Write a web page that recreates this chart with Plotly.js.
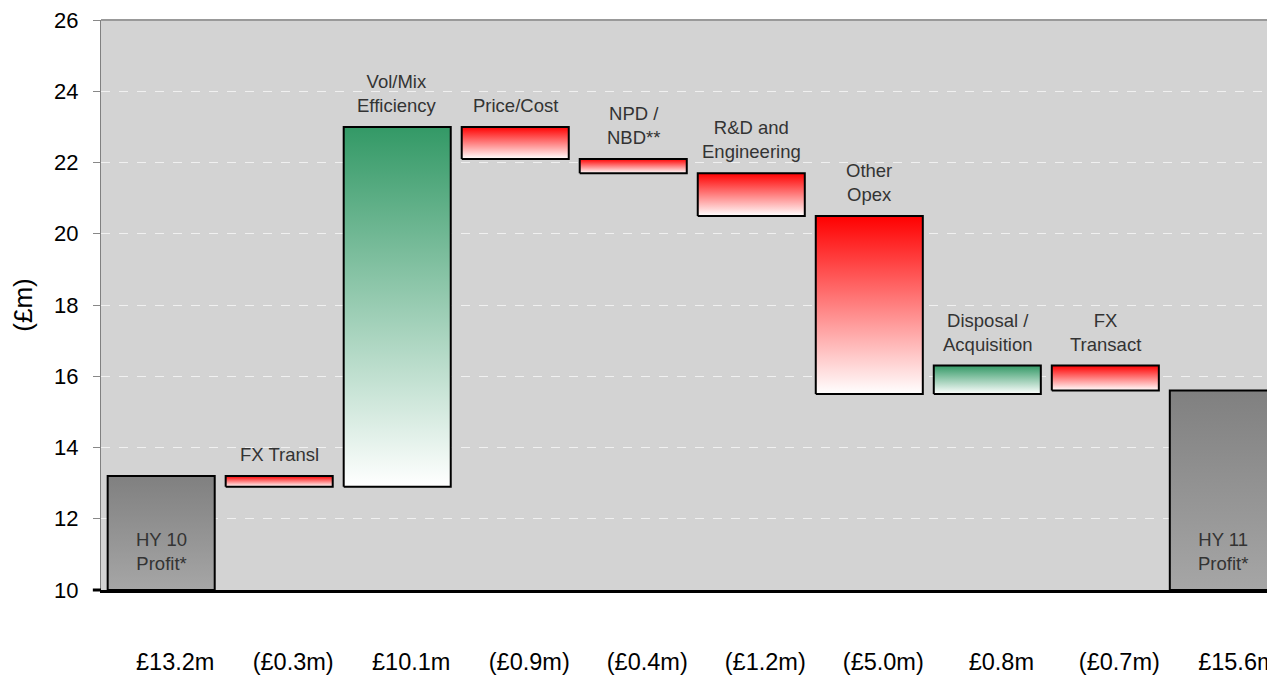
<!DOCTYPE html>
<html>
<head>
<meta charset="utf-8">
<script src="https://cdn.plot.ly/plotly-3.0.1.min.js"></script>
<style>html,body{margin:0;padding:0;background:#fff;}#chart{width:1267px;height:677px;}</style>
</head>
<body>
<div id="chart"></div>
<script>
// ---- data ----
const categories = ["HY 10<br>Profit*", "FX Transl", "Vol/Mix<br>Efficiency", "Price/Cost", "NPD /<br>NBD**",
  "R&D and<br>Engineering", "Other<br>Opex", "Disposal /<br>Acquisition", "FX<br>Transact", "HY 11<br>Profit*"];
const measures = ["total", "relative", "relative", "relative", "relative", "relative", "relative", "relative", "relative", "total"];
const values = [13.2, -0.3, 10.1, -0.9, -0.4, -1.2, -5.0, 0.8, -0.7, 15.6];
const axisBase = 10;
const yTicks = [10, 12, 14, 16, 18, 20, 22, 24, 26];

// ---- build ----
const barW = 0.907;
const traces = [];
const annotations = [];
let running = 0;
const valueLabels = [];
const labelFont = {family: "Liberation Sans, Arial", size: 18.5, color: "#333333"};
values.forEach((v, i) => {
  let lo, hi, kind;
  if (measures[i] === "total") {
    lo = axisBase; hi = v; running = v; kind = "total";
  } else {
    const start = running; running = running + v;
    lo = Math.min(start, running); hi = Math.max(start, running);
    kind = v >= 0 ? "up" : "down";
  }
  const cs = kind === "total" ? [[0, "#a6a6a6"], [1, "#808080"]]
           : kind === "up" ? [[0, "#ffffff"], [1, "#339966"]]
           : [[0, "#ffffff"], [1, "#ff0000"]];
  traces.push({
    type: "scatter", mode: "lines",
    x: [i - barW / 2, i + barW / 2, i + barW / 2, i - barW / 2, i - barW / 2],
    y: [lo, lo, hi, hi, lo],
    fill: "toself",
    fillgradient: {type: "vertical", colorscale: cs},
    line: {color: "#000000", width: 2},
    hoverinfo: "skip", showlegend: false
  });
  const abs = Math.abs(v).toFixed(1);
  valueLabels.push(v >= 0 ? "£" + abs + "m" : "(£" + abs + "m)");
  if (kind === "total") {
    annotations.push({x: i, y: axisBase, xref: "x", yref: "y", text: categories[i], showarrow: false,
      yanchor: "bottom", yshift: 14, font: labelFont});
  } else {
    annotations.push({x: i, y: hi, xref: "x", yref: "y", text: categories[i], showarrow: false,
      yanchor: "bottom", yshift: 9, font: labelFont});
  }
});

const layout = {
  width: 1267, height: 677,
  margin: {l: 101, r: 0, t: 20, b: 87},
  paper_bgcolor: "#ffffff",
  plot_bgcolor: "#d3d3d3",
  font: {family: "Liberation Sans, Arial", color: "#000000"},
  showlegend: false,
  xaxis: {
    range: [-0.51, 9.37],
    tickvals: values.map((_, i) => i),
    ticktext: valueLabels,
    ticks: "", showgrid: false, zeroline: false,
    showline: true, linecolor: "#000000", linewidth: 3,
    ticklabelstandoff: 49,
    ticklabelshift: 14,
    ticklabeloverflow: "allow",
    tickfont: {size: 23.5, color: "#000000"},
    fixedrange: true
  },
  yaxis: {
    range: [10, 26],
    tickvals: yTicks,
    ticks: "outside", ticklen: 7, tickcolor: "#888888",
    showline: true, linecolor: "#808080", linewidth: 1,
    showgrid: true, gridcolor: "#f0f0f0", griddash: "dash", gridwidth: 1,
    zeroline: false,
    tickfont: {size: 22, color: "#000000"},
    ticklabelstandoff: 10,
    title: {text: "(£m)", font: {size: 26, color: "#000000"}, standoff: 14},
    fixedrange: true
  },
  shapes: [
    {type: "line", xref: "paper", yref: "paper", x0: 0, x1: 1, y0: 1, y1: 1, line: {color: "#999999", width: 2}},
    {type: "line", xref: "paper", yref: "paper", x0: -0.007, x1: 0, y0: 0, y1: 0, line: {color: "#000000", width: 3}}
  ],
  annotations: annotations
};

Plotly.newPlot("chart", traces, layout, {displayModeBar: false, staticPlot: true});
</script>
</body>
</html>
